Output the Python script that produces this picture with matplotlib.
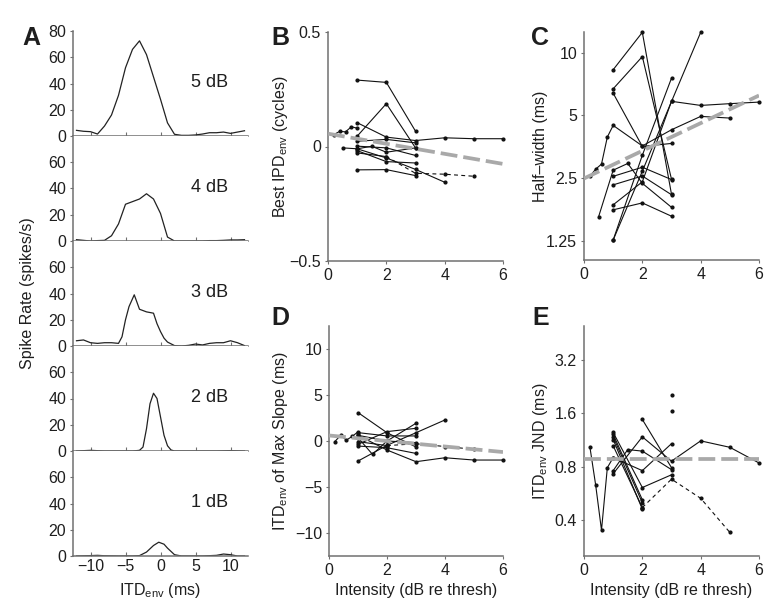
import numpy as np
import matplotlib.pyplot as plt
from matplotlib.ticker import FixedLocator, FixedFormatter, NullLocator

plt.rcParams['font.family'] = ['Liberation Sans', 'DejaVu Sans']
plt.rcParams['mathtext.default'] = 'regular'

W, H = 780, 614

# ---- panel A: rate vs ITD_env at five levels ----
itd_5 = [-12, -11, -10, -9, -8, -7, -6, -5, -4, -3, -2, -1, 0, 1, 2, 3, 4, 5, 6, 7, 8, 9, 10, 11, 12]
rate_5 = [4.3, 3.6, 3.3, 1.5, 7.6, 16, 31, 52, 66, 72.5, 62, 45, 28, 10, 1.3, 0.5, 0.5, 0.8, 1.5, 2.5, 2.5, 3, 2, 3, 4]
itd_4 = [-12, -11, -10, -9, -8, -7, -6, -5, -4, -3, -2, -1, 0, 1, 2, 3, 4, 5, 6, 7, 8, 9, 10, 11, 12]
rate_4 = [1, 0.5, 0, 0.3, 0.5, 4, 13, 28, 30, 32, 36, 32, 21, 3, 0, 0, 0, 0, 0, 0.3, 0.3, 0.5, 0.8, 0.8, 1]
itd_3 = [-12, -11, -10, -9, -8, -7, -6, -5.5, -5, -4.5, -3.75, -3, -2, -1, -0.5, 0, 0.5, 1, 2, 3, 4, 5, 6, 7, 8, 9, 10, 11, 12]
rate_3 = [4, 4.6, 2.5, 2, 2.5, 2.5, 2, 7, 20, 30, 39, 28, 26, 25, 17, 11, 6, 3, 0.3, 0, 0.5, 1.5, 0.8, 2, 2.5, 2.5, 4, 2.5, 0.3]
itd_2 = [-12, -10, -8, -6, -4, -3, -2.5, -2, -1.5, -1, -0.5, 0, 0.5, 1, 1.5, 2, 4, 6, 8, 10, 12]
rate_2 = [0, 0.5, 0, 0, 0, 0.5, 3, 17, 36, 44, 40, 26, 12, 4, 0.8, 0, 0, 0, 0, 0.3, 0]
itd_1 = [-12, -10, -9, -8, -6, -4, -3, -2, -1, -0.25, 0.5, 1, 2, 3, 4, 6, 8, 9, 10, 11, 12]
rate_1 = [0, 0.3, 0.5, 0.2, 0, 0, 0.3, 3, 8, 10.5, 9, 6, 1, 0, 0, 0, 0.5, 1.5, 1, 0, 0]
levels = ['5 dB', '4 dB', '3 dB', '2 dB', '1 dB']

# ---- panel B: best IPD_env vs intensity ----
b_int = [[1, 2, 3], [1, 2, 3], [0.2, 0.4, 0.6, 0.8, 1.0], [1, 2, 3, 4, 5, 6], [1, 2, 3],
         [0.5, 1, 1.5, 2, 3], [1, 2, 3], [1, 2, 3], [1, 2, 3, 4], [1, 2, 3], [1, 2]]
b_ipd = [[0.29, 0.28, 0.067], [0.045, 0.187, -0.006], [0.052, 0.066, 0.064, 0.086, 0.08],
         [0.104, 0.041, 0.026, 0.038, 0.034, 0.034], [0.023, 0.031, 0.016],
         [-0.006, -0.01, 0.001, -0.025, -0.006], [-0.018, -0.066, -0.072],
         [-0.102, -0.101, -0.127], [-0.01, -0.05, -0.1, -0.156], [0.0015, -0.006, -0.039],
         [-0.028, -0.044]]
b_dash_int = [2, 3, 4, 5]
b_dash_ipd = [-0.044, -0.117, -0.121, -0.13]
b_fit_int = [0, 6]
b_fit_ipd = [0.056, -0.076]

# ---- panel C: half-width vs intensity ----
c_int = [[1, 2, 3], [1, 2, 3], [1, 2, 3], [1, 2, 3, 4], [1, 2, 3],
         [0.2, 0.4, 0.6, 0.8, 1, 2, 3, 4, 5], [0.5, 1, 1.5, 2, 3], [1, 2, 3],
         [1, 2, 3, 4, 5, 6], [1, 2, 3], [1, 2, 3]]
c_hw = [[8.3, 12.55, 2.09], [6.72, 9.6, 2.47], [6.4, 3.55, 3.67], [1.26, 2.7, 5.84, 12.55],
        [1.26, 3.22, 7.56], [2.55, 2.76, 2.92, 3.94, 4.48, 3.57, 4.27, 4.95, 4.86],
        [1.63, 2.73, 2.94, 2.36, 1.81], [2.55, 2.82, 2.46], [1.86, 2.4, 5.85, 5.59, 5.7, 5.8],
        [1.76, 1.9, 1.64], [2.32, 2.56, 2.08]]
c_fit_int = [0, 6]
c_fit_hw = [2.49, 6.24]

# ---- panel D: ITD_env of max slope vs intensity ----
d_int = [[0.2, 0.4, 0.6, 0.8, 1.0], [1, 2, 3], [1, 2, 3, 4], [1, 1.5, 2, 3], [1, 2, 3, 4, 5, 6],
         [1, 2, 3], [1, 2, 3], [1, 2, 3], [1, 2, 3], [1, 2]]
d_slope = [[-0.07, 0.62, 0.1, 0.5, 1.0], [3.09, 0.9, -0.65], [-2.18, -0.47, 0.9, 2.29],
           [0.36, -1.45, 0.0, 1.93], [0.62, -0.98, -2.25, -1.82, -2.07, -2.07],
           [0.91, 0.55, 0.55], [-0.36, 1.02, 1.38], [-0.55, -0.73, -1.35], [0.62, 0.0, -0.18],
           [-0.07, -0.5]]
d_dash_int = [2, 3, 4, 5]
d_dash_slope = [-0.5, -0.3, -0.6, -0.9]
d_fit_int = [0, 6]
d_fit_slope = [0.6, -1.2]

# ---- panel E: ITD_env JND vs intensity ----
e_int = [[0.2, 0.4, 0.6, 0.8, 1.0], [1, 2, 3, 4, 5, 6], [1, 2, 3], [2, 3], [1, 1.5, 2, 3],
         [1, 2, 3], [1, 2], [1, 2], [1, 2], [1, 2], [3], [3]]
e_jnd = [[1.04, 0.63, 0.35, 0.79, 0.90], [0.73, 1.18, 0.86, 1.12, 1.03, 0.84], [0.9, 0.76, 1.08],
         [1.48, 0.79], [0.76, 1.0, 0.98, 0.77], [1.25, 0.61, 0.72], [1.22, 0.52], [1.18, 0.50],
         [1.14, 0.46], [1.05, 0.47], [2.04], [1.65]]
e_dash_int = [2, 3, 4, 5]
e_dash_jnd = [0.47, 0.68, 0.53, 0.34]
e_fit_int = [0, 6]
e_fit_jnd = [0.88, 0.88]

SPINE = '#707070'
TXT = '#1e1e1e'
FS = 11.5


def box(l, t, r, b):
    return [l / W, 1 - b / H, (r - l) / W, (b - t) / H]


def style(ax):
    for s in ['top', 'right']:
        ax.spines[s].set_visible(False)
    for s in ['left', 'bottom']:
        ax.spines[s].set_color(SPINE)
        ax.spines[s].set_linewidth(1.1)
    ax.tick_params(labelsize=FS, colors=SPINE, labelcolor=TXT, length=2.5, width=0.8, pad=2.5)


def neuron_panel(ax, xs, ys, dx, dy, fx, fy):
    for x, y in zip(xs, ys):
        ax.plot(x, y, '-', color='#111111', lw=0.8, marker='o', ms=2.0, clip_on=False)
    ax.plot(dx, dy, color='#111111', lw=0.8, ls=(0, (3.5, 3)), marker='o', ms=2.0)
    ax.plot(fx, fy, color='#a9a9a9', lw=2.7, ls=(0, (4.5, 1.6)), zorder=5)
    ax.set_xlim(0, 6)
    ax.set_xticks([0, 2, 4, 6])
    style(ax)


fig = plt.figure(figsize=(W / 100, H / 100), dpi=100)

# panel A
curves = [(itd_5, rate_5), (itd_4, rate_4), (itd_3, rate_3), (itd_2, rate_2), (itd_1, rate_1)]
for i, (x, y) in enumerate(curves):
    top = 31 + 105 * i
    ax = fig.add_axes(box(73, top, 248, top + 105))
    ax.plot(x, y, color='#222222', lw=0.9)
    ax.set_xlim(-12.5, 12.5)
    ax.set_ylim(0, 80)
    ax.set_xticks([-10, -5, 0, 5, 10])
    ax.set_yticks([0, 20, 40, 60, 80] if i == 0 else [0, 20, 40, 60])
    style(ax)
    ax.tick_params(axis='x', direction='in', length=3)
    if i < 4:
        ax.tick_params(axis='x', labelbottom=False)
    ax.text(7, 41, levels[i], fontsize=13, ha='center', va='center', color=TXT)

# panel B
axB = fig.add_axes(box(328, 32, 503, 261))
neuron_panel(axB, b_int, b_ipd, b_dash_int, b_dash_ipd, b_fit_int, b_fit_ipd)
axB.set_ylim(-0.5, 0.5)
axB.set_yticks([-0.5, 0, 0.5])
axB.set_yticklabels(['\u22120.5', '0', '0.5'])

# panel C
axC = fig.add_axes(box(584, 32, 759, 260))
neuron_panel(axC, c_int, c_hw, [], [], c_fit_int, c_fit_hw)
axC.set_yscale('log')
axC.set_ylim(1.01, 12.6)
axC.yaxis.set_major_locator(FixedLocator([1.25, 2.5, 5, 10]))
axC.yaxis.set_major_formatter(FixedFormatter(['1.25', '2.5', '5', '10']))
axC.yaxis.set_minor_locator(NullLocator())

# panel D
axD = fig.add_axes(box(329, 326, 503, 556))
neuron_panel(axD, d_int, d_slope, d_dash_int, d_dash_slope, d_fit_int, d_fit_slope)
axD.set_ylim(-12.5, 12.5)
axD.set_yticks([-10, -5, 0, 5, 10])

# panel E
axE = fig.add_axes(box(584, 326, 759, 556))
neuron_panel(axE, e_int, e_jnd, e_dash_int, e_dash_jnd, e_fit_int, e_fit_jnd)
axE.set_yscale('log')
axE.set_ylim(0.25, 5)
axE.yaxis.set_major_locator(FixedLocator([0.4, 0.8, 1.6, 3.2]))
axE.yaxis.set_major_formatter(FixedFormatter(['0.4', '0.8', '1.6', '3.2']))
axE.yaxis.set_minor_locator(NullLocator())

# labels
def ftext(x, y, s, **kw):
    fig.text(x / W, 1 - y / H, s, ha='center', va='center', color=TXT, **kw)

ftext(28, 293, 'Spike Rate (spikes/s)', fontsize=FS, rotation=90)
ftext(280, 147, 'Best IPD$_{env}$ (cycles)', fontsize=FS, rotation=90)
ftext(540, 146, 'Half\u2013width (ms)', fontsize=FS, rotation=90)
ftext(280, 441, 'ITD$_{env}$ of Max Slope (ms)', fontsize=FS, rotation=90)
ftext(540, 441, 'ITD$_{env}$ JND (ms)', fontsize=FS, rotation=90)
ftext(160, 590, 'ITD$_{env}$ (ms)', fontsize=FS)
ftext(416, 590, 'Intensity (dB re thresh)', fontsize=FS)
ftext(671, 590, 'Intensity (dB re thresh)', fontsize=FS)

for lab, x, y in [('A', 31, 38), ('B', 280, 38), ('C', 540, 38), ('D', 280, 318), ('E', 541, 318)]:
    ftext(x, y, lab, fontsize=18, fontweight='bold')

fig.savefig('out.png', dpi=100)
